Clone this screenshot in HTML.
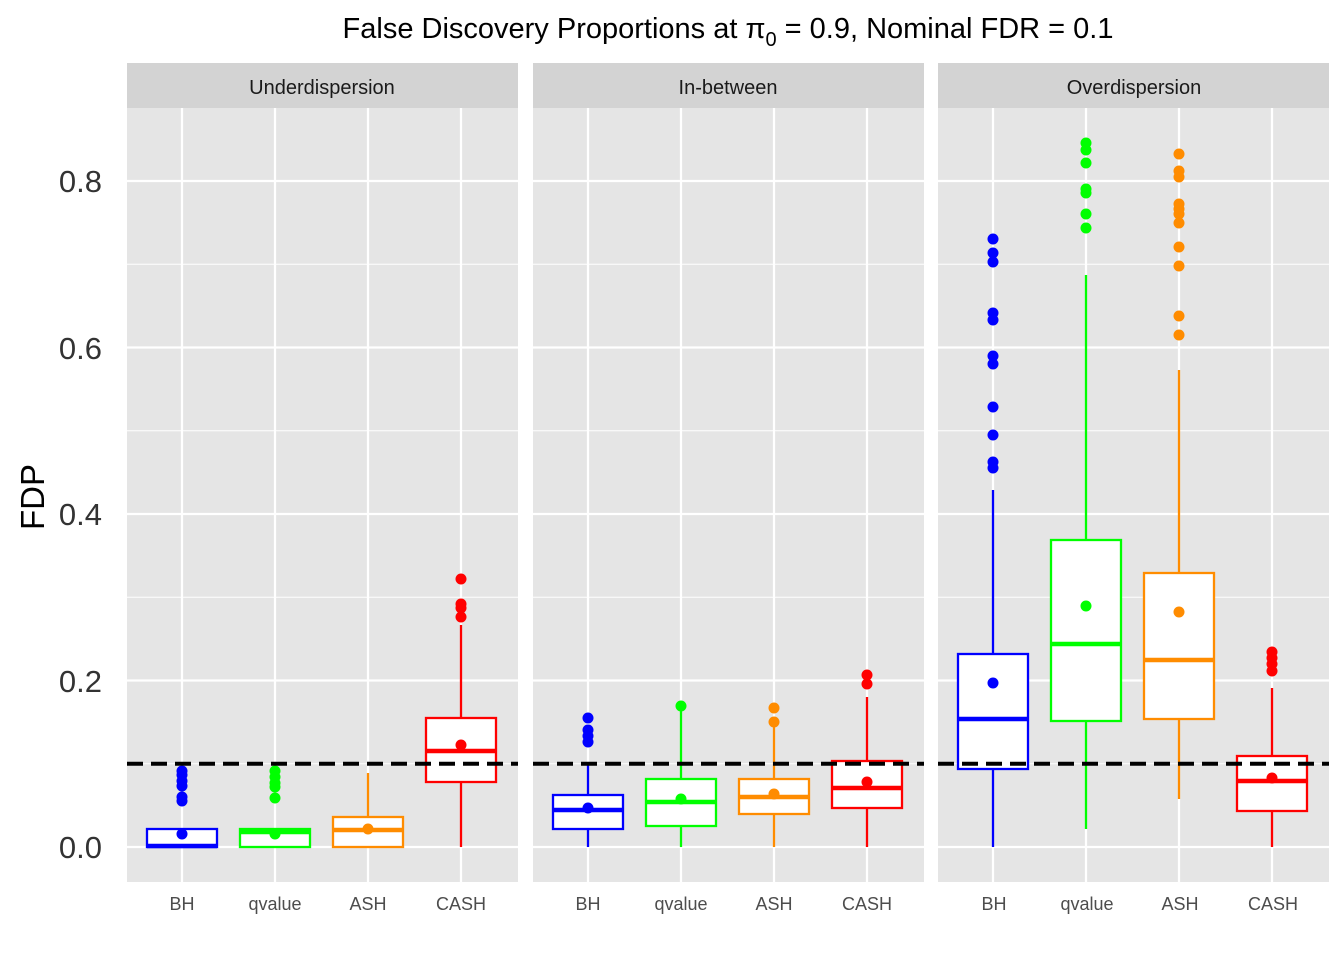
<!DOCTYPE html>
<html><head><meta charset="utf-8"><style>
body{margin:0;background:#fff;}
svg{display:block;font-family:"Liberation Sans",sans-serif;}
</style></head><body>
<svg id="s" width="1344" height="960" xmlns="http://www.w3.org/2000/svg">
<rect width="1344" height="960" fill="#fff"/>
<g id="panels"></g>
<text x="728" y="38" font-size="29" text-anchor="middle" fill="#000">False Discovery Proportions at π<tspan font-size="20" dy="8">0</tspan><tspan dy="-8"> = 0.9, Nominal FDR = 0.1</tspan></text>
<g font-size="20" fill="#1a1a1a" text-anchor="middle">
<text x="322" y="94">Underdispersion</text>
<text x="728" y="94">In-between</text>
<text x="1134" y="94">Overdispersion</text>
</g>
<g font-size="31" fill="#333" text-anchor="end">
<text x="102" y="858">0.0</text>
<text x="102" y="692">0.2</text>
<text x="102" y="525">0.4</text>
<text x="102" y="359">0.6</text>
<text x="102" y="192">0.8</text>
</g>
<text transform="translate(44,497) rotate(-90)" font-size="33" text-anchor="middle" fill="#000">FDP</text>
<g font-size="18" fill="#4d4d4d" text-anchor="middle">
<text x="182" y="910">BH</text><text x="275" y="910">qvalue</text><text x="368" y="910">ASH</text><text x="461" y="910">CASH</text>
<text x="588" y="910">BH</text><text x="681" y="910">qvalue</text><text x="774" y="910">ASH</text><text x="867" y="910">CASH</text>
<text x="994" y="910">BH</text><text x="1087" y="910">qvalue</text><text x="1180" y="910">ASH</text><text x="1273" y="910">CASH</text>
</g>
</svg>
<script>
const NS="http://www.w3.org/2000/svg";const g=document.getElementById("panels");
function el(t,a){const e=document.createElementNS(NS,t);for(const k in a)e.setAttribute(k,a[k]);g.appendChild(e);return e;}
const px=[127,533,938],W=391;
const cols=["#0000ff","#00ff00","#ff8c00","#ff0000"];
const data=[
[[847,829,846,847,847,[771,775,781,786,797,801],834],
 [847,829,832,847,847,[771,777,783,787,798],834],
 [847,817,830,847,773,[],829],
 [782,718,751,847,625,[579,604,608,617],745]],
[[829,795,810,847,763,[718,730,736,742],808],
 [826,779,802,847,706,[706],799],
 [814,779,797,847,722,[708,722],794],
 [808,761,788,847,697,[675,684],782]],
[[769,654,719,847,490,[239,253,262,313,320,356,364,407,435,462,468],683],
 [721,540,644,829,275,[143,150,163,189,193,214,228],606],
 [719,573,660,799,370,[154,171,177,204,209,214,223,247,266,316,335],612],
 [811,756,781,847,688,[652,658,664,671],778]]];
px.forEach((x0,p)=>{
 el("rect",{x:x0,y:63,width:W,height:45,fill:"#d3d3d3"});
 el("rect",{x:x0,y:108,width:W,height:774,fill:"#e5e5e5"});
 [847,680.5,514,347.5,181].forEach(y=>el("line",{x1:x0,x2:x0+W,y1:y,y2:y,stroke:"#fff","stroke-width":2.2}));
 [763.75,597.25,430.75,264.25].forEach(y=>el("line",{x1:x0,x2:x0+W,y1:y,y2:y,stroke:"#fff","stroke-width":1.1}));
 for(let i=0;i<4;i++){const cx=x0+55+93*i;el("line",{x1:cx,x2:cx,y1:108,y2:882,stroke:"#fff","stroke-width":2.2});}
 for(let i=0;i<4;i++){
  const cx=x0+55+93*i,c=cols[i],[q1,q3,med,lo,hi,out,mean]=data[p][i];
  el("line",{x1:cx,x2:cx,y1:q1,y2:lo,stroke:c,"stroke-width":2.3});
  el("line",{x1:cx,x2:cx,y1:q3,y2:hi,stroke:c,"stroke-width":2.3});
  el("rect",{x:cx-35,y:q3,width:70,height:q1-q3,fill:"#fff",stroke:c,"stroke-width":2.3});
  el("line",{x1:cx-35,x2:cx+35,y1:med,y2:med,stroke:c,"stroke-width":4.5});
  out.forEach(y=>el("circle",{cx:cx,cy:y,r:5.5,fill:c}));
  el("circle",{cx:cx,cy:mean,r:5.5,fill:c});
 }
 el("line",{x1:x0,x2:x0+W,y1:763.75,y2:763.75,stroke:"#000","stroke-width":4,"stroke-dasharray":"16,8"});
});
</script>
</body></html>
